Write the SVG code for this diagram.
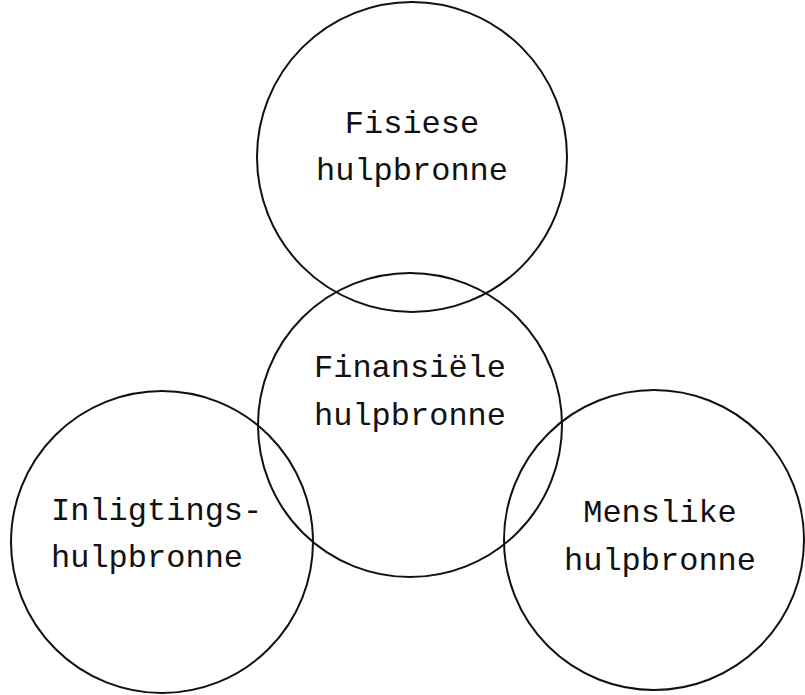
<svg xmlns="http://www.w3.org/2000/svg" width="805" height="695" viewBox="0 0 805 695">
<style>
.c{fill:none;stroke:#111;stroke-width:2}
.t{font-family:"Liberation Mono","Courier New",monospace;font-size:32px;fill:#111}
.m{text-anchor:middle}
</style>
<rect width="805" height="695" fill="#fff"/>
<g id="fisiese">
<circle class="c" cx="412" cy="157" r="155"/>
<text class="t m" x="412" y="133">Fisiese</text>
<text class="t m" x="412" y="180">hulpbronne</text>
</g>
<g id="finansiele">
<circle class="c" cx="410" cy="425" r="152"/>
<text class="t m" x="410" y="377">Finansiële</text>
<text class="t m" x="410" y="425">hulpbronne</text>
</g>
<g id="inligtings">
<circle class="c" cx="162" cy="542" r="151"/>
<text class="t" x="51" y="520">Inligtings-</text>
<text class="t" x="51" y="567">hulpbronne</text>
</g>
<g id="menslike">
<circle class="c" cx="654" cy="540" r="150"/>
<text class="t m" x="660" y="522">Menslike</text>
<text class="t m" x="660" y="570">hulpbronne</text>
</g>
<g id="connectors"/>
</svg>
